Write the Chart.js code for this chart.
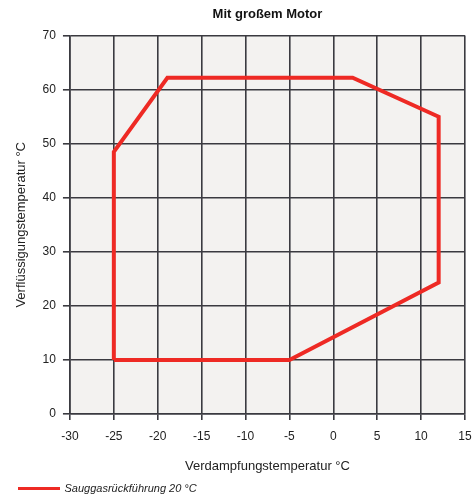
<!DOCTYPE html>
<html>
<head>
<meta charset="utf-8">
<script src="https://cdn.jsdelivr.net/npm/chart.js@4"></script>
<style>
  html, body { margin: 0; padding: 0; background: #fff; }
  #wrap { width: 475px; height: 504px; }
</style>
</head>
<body>
<div id="wrap"><canvas id="envelopePlot"></canvas></div>
<script>
// Einsatzgrenzen, Polygon im Uhrzeigersinn
const evapTemp = [-25, -25, -18.9, 2.2, 12, 12, -5, -25]
const condTemp = [10, 48.5, 62.2, 62.2, 55, 24.3, 10, 10]
const xTicks = [-30, -25, -20, -15, -10, -5, 0, 5, 10, 15]
const yTicks = [0, 10, 20, 30, 40, 50, 60, 70]

const FONT = "'Liberation Sans', Arial, sans-serif"

const plotBg = {
    id: 'plotBg',
    beforeDraw(chart) {
        const { ctx, chartArea: a } = chart
        ctx.save()
        ctx.fillStyle = '#f3f2f0'
        ctx.fillRect(a.left, a.top, a.right - a.left, a.bottom - a.top)
        ctx.restore()
    }
}

new Chart(document.getElementById('envelopePlot'), {
    type: 'scatter',
    data: {
        datasets: [{
            label: 'Sauggasrückführung 20 °C',
            data: evapTemp.map((x, i) => ({ x: x, y: condTemp[i] })),
            showLine: true,
            borderColor: '#ee2a24',
            backgroundColor: '#ee2a24',
            borderWidth: 4,
            pointRadius: 0,
            borderJoinStyle: 'miter',
            tension: 0
        }]
    },
    options: {
        responsive: true,
        maintainAspectRatio: false,
        animation: false,
        layout: { padding: { left: 14, right: 10, top: 5, bottom: 0 } },
        plugins: {
            title: {
                display: true,
                fullSize: false,
                text: 'Mit großem Motor',
                color: '#111',
                font: { family: FONT, size: 13, weight: 'bold' },
                padding: { top: 2, bottom: 13 }
            },
            legend: {
                position: 'bottom',
                align: 'start',
                labels: {
                    boxWidth: 40,
                    boxHeight: 1,
                    color: '#222',
                    font: { family: FONT, size: 11, style: 'italic' },
                    padding: 5,
                    generateLabels: chart => Chart.defaults.plugins.legend.labels.generateLabels(chart)
                        .map(item => Object.assign(item, { lineWidth: 2 }))
                }
            },
            tooltip: { enabled: false }
        },
        scales: {
            x: {
                type: 'linear',
                min: -30,
                max: 15,
                afterBuildTicks: axis => { axis.ticks = xTicks.map(v => ({ value: v })) },
                // "15" darf über den Rand hinausragen
                afterFit: axis => { axis.paddingRight = 0 },
                ticks: { color: '#222', font: { family: FONT, size: 12 }, padding: 9 },
                grid: { color: '#3a3a40', lineWidth: 1.6, tickLength: 6 },
                border: { color: '#3a3a40', width: 1.6 },
                title: {
                    display: true,
                    text: 'Verdampfungstemperatur °C',
                    color: '#222',
                    font: { family: FONT, size: 13 },
                    padding: { top: 6, bottom: 4 }
                }
            },
            y: {
                type: 'linear',
                min: 0,
                max: 70,
                afterBuildTicks: axis => { axis.ticks = yTicks.map(v => ({ value: v })) },
                ticks: { color: '#222', font: { family: FONT, size: 12 }, padding: 7 },
                grid: { color: '#3a3a40', lineWidth: 1.6, tickLength: 7 },
                border: { color: '#3a3a40', width: 1.6 },
                title: {
                    display: true,
                    text: 'Verflüssigungstemperatur °C',
                    color: '#222',
                    font: { family: FONT, size: 13 },
                    padding: { top: 0, bottom: 6 }
                }
            }
        }
    },
    plugins: [plotBg]
})
</script>
</body>
</html>
